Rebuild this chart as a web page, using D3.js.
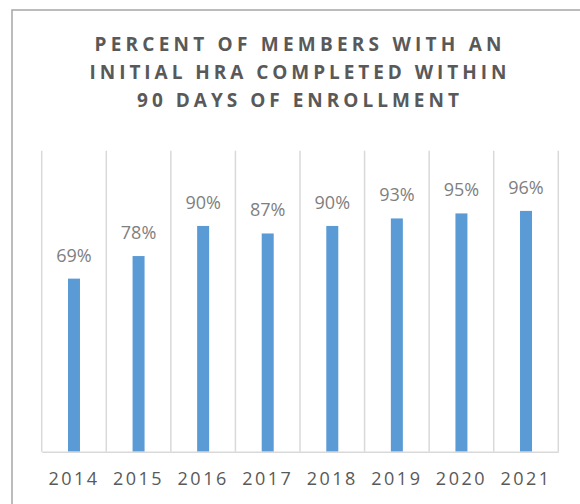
<!DOCTYPE html>
<html>
<head>
<meta charset="utf-8">
<script src="https://cdn.jsdelivr.net/npm/d3@7"></script>
<style>
  body { margin: 0; background: #fff; }
  svg { display: block; }
</style>
</head>
<body>
<script>
// chart data
const years = ["2014", "2015", "2016", "2017", "2018", "2019", "2020", "2021"];
const percents = [69, 78, 90, 87, 90, 93, 95, 96];
const titleLines = ["PERCENT OF MEMBERS WITH AN", "INITIAL HRA COMPLETED WITHIN", "90 DAYS OF ENROLLMENT"];

const width = 580, height = 504;
const plotLeft = 41.7, plotRight = 558.3, plotTop = 150.7, plotBottom = 451.7;

const svg = d3.select("body").append("svg")
    .attr("width", width)
    .attr("height", height);

// frame (only top and left edges show in the picture)
svg.append("path")
    .attr("d", `M12,${height} V10 H${width}`)
    .attr("fill", "none")
    .attr("stroke", "#a6a6a6")
    .attr("stroke-width", 1.5);

// title
const titleWidths = [407, 417, 322];
svg.append("g").selectAll("text")
    .data(titleLines)
    .enter().append("text")
    .attr("x", 298)
    .attr("y", (d, i) => 51 + i * 28)
    .attr("text-anchor", "middle")
    .attr("font-family", "Open Sans, sans-serif")
    .attr("font-weight", "bold")
    .attr("font-size", 19)
    .attr("fill", "#595959")
    .attr("textLength", (d, i) => titleWidths[i])
    .attr("lengthAdjust", "spacing")
    .text(d => d);

const x = d3.scaleBand()
    .domain(years)
    .range([plotLeft, plotRight]);

const y = d3.scaleLinear()
    .domain([0, 120])
    .range([plotBottom, plotTop]);

// vertical category gridlines
const gridX = years.map(d => x(d)).concat([plotRight]);
svg.append("g").selectAll("line")
    .data(gridX)
    .enter().append("line")
    .attr("x1", d => d).attr("x2", d => d)
    .attr("y1", plotTop).attr("y2", plotBottom)
    .attr("stroke", "#d9d9d9")
    .attr("stroke-width", 1.5);

// bars
const barW = 12;
svg.append("g").selectAll("rect")
    .data(percents)
    .enter().append("rect")
    .attr("x", (d, i) => x(years[i]) + x.bandwidth() / 2 - barW / 2)
    .attr("y", d => y(d))
    .attr("width", barW)
    .attr("height", d => plotBottom - y(d))
    .attr("fill", "#5b9bd5");

// value labels
svg.append("g").selectAll("text")
    .data(percents)
    .enter().append("text")
    .attr("x", (d, i) => x(years[i]) + x.bandwidth() / 2)
    .attr("y", d => y(d) - 17)
    .attr("text-anchor", "middle")
    .attr("font-family", "Open Sans, sans-serif")
    .attr("font-size", 18)
    .attr("fill", "#7f7f7f")
    .text(d => d + "%");

// x axis
const xAxis = svg.append("g")
    .attr("transform", `translate(0,${plotBottom})`)
    .call(d3.axisBottom(x).tickSize(0).tickPadding(21));
xAxis.select(".domain")
    .attr("stroke", "#d9d9d9")
    .attr("stroke-width", 1.5);
xAxis.selectAll("text")
    .attr("font-family", "Open Sans, sans-serif")
    .attr("font-size", 18)
    .attr("letter-spacing", 2.5)
    .attr("fill", "#595959");
</script>
</body>
</html>
